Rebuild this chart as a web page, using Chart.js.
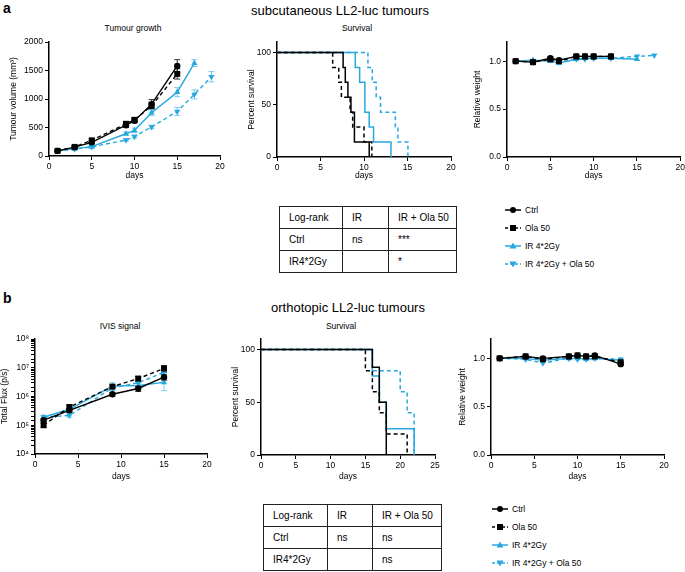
<!DOCTYPE html>
<html>
<head>
<meta charset="utf-8">
<script src="https://cdn.jsdelivr.net/npm/chart.js@4.4.1/dist/chart.umd.min.js"></script>
<style>
  body { margin: 0; width: 685px; height: 572px; overflow: hidden; background: #fff; position: relative;
         font-family: "Liberation Sans", Arial, sans-serif; color: #000; }
  canvas { position: absolute; }
  .t { position: absolute; transform: translate(-50%, -50%); white-space: nowrap; }
  .sub { font-size: 8.5px; }
  .main { font-size: 13px; }
  .panel { position: absolute; font-weight: bold; font-size: 14px; }
  table.lr { position: absolute; border-collapse: collapse; font-size: 10px; }
  table.lr td { border: 1.5px solid #222; padding: 0 0 0 9px; height: 21px; }
  .leg { position: absolute; font-size: 8.5px; display: flex; align-items: center; white-space: nowrap; }
  .leg svg { margin-right: 4px; }
</style>
</head>
<body>

<div class="panel" style="left:3px;top:0px">a</div>
<div class="t main" style="left:340px;top:10px">subcutaneous LL2-luc tumours</div>
<div class="t sub" style="left:133px;top:28px">Tumour growth</div>
<div class="t sub" style="left:357px;top:28px">Survival</div>

<div class="panel" style="left:3px;top:290px">b</div>
<div class="t main" style="left:348px;top:307px">orthotopic LL2-luc tumours</div>
<div class="t sub" style="left:120px;top:326px">IVIS signal</div>
<div class="t sub" style="left:341px;top:326px">Survival</div>

<canvas id="growthA"></canvas>
<canvas id="survA"></canvas>
<canvas id="weightA"></canvas>
<canvas id="ivisB"></canvas>
<canvas id="survB"></canvas>
<canvas id="weightB"></canvas>

<table class="lr" id="tableA" style="left:279px;top:206px"></table>
<table class="lr" id="tableB" style="left:263px;top:504px"></table>
<div id="legendA"></div>
<div id="legendB"></div>

<script>
// ---- data ----

// a: tumour growth (mm3)
const growthDays = [1, 3, 5, 9, 10, 12, 15];
const growthDaysIR = [1, 3, 5, 9, 10, 12, 15, 17];
const growthDaysIROla = [1, 3, 5, 9, 10, 12, 15, 17, 19];
const growthCtrl = [90, 155, 240, 540, 620, 910, 1580];
const growthCtrlErr = [10, 20, 30, 40, 40, 80, 110];
const growthOla = [90, 160, 275, 565, 635, 880, 1440];
const growthOlaErr = [10, 20, 30, 40, 40, 60, 90];
const growthIR = [90, 130, 165, 390, 450, 760, 1120, 1630];
const growthIRErr = [10, 15, 20, 30, 40, 50, 80, 60];
const growthIROla = [90, 120, 160, 280, 340, 510, 780, 1080, 1390];
const growthIROlaErr = [10, 15, 20, 20, 25, 30, 70, 80, 90];

// a: survival (Kaplan-Meier steps)
const survACtrlX = [0, 7.6, 7.85, 8.15, 8.5, 8.9, 10.6];
const survACtrlY = [100, 85.7, 71.4, 57.1, 42.9, 14.3, 0];
const survAOlaX = [0, 6.4, 7.1, 7.4, 8.4, 8.7, 10.0, 10.9];
const survAOlaY = [100, 85.7, 71.4, 57.1, 42.9, 28.6, 14.3, 0];
const survAIRX = [0, 9.0, 9.5, 10.1, 10.6, 11.1, 13.1];
const survAIRY = [100, 85.7, 71.4, 42.9, 28.6, 14.3, 0];
const survAIROlaX = [0, 10.45, 10.95, 11.4, 11.9, 13.6, 13.9, 15.05];
const survAIROlaY = [100, 85.7, 71.4, 57.1, 42.9, 28.6, 14.3, 0];

// a: relative weight
const weightDaysA = [1, 3, 5, 6, 8, 9, 10, 12];
const weightDaysAIR = [1, 3, 5, 6, 8, 9, 10, 12, 15];
const weightDaysAIROla = [1, 3, 5, 6, 8, 9, 10, 12, 15, 17];
const weightACtrl = [1.0, 0.99, 1.03, 1.01, 1.05, 1.05, 1.05, 1.05];
const weightAOla = [1.0, 0.99, 1.02, 1.0, 1.05, 1.05, 1.05, 1.05];
const weightAIR = [1.0, 1.01, 1.0, 0.98, 1.02, 1.03, 1.03, 1.03, 1.02];
const weightAIROla = [1.0, 1.0, 1.01, 0.99, 1.02, 1.02, 1.03, 1.03, 1.05, 1.06];

// b: IVIS signal (p/s)
const ivisDays = [1, 4, 9, 12, 15];
const ivisCtrl = [1.5e5, 3.3e5, 1.2e6, 1.9e6, 4.7e6];
const ivisCtrlErr = [2e4, 5e4, 1.5e5, 4e5, 1e6];
const ivisOla = [1.0e5, 4.3e5, 2.2e6, 4.2e6, 9.4e6];
const ivisOlaErr = [1.5e4, 8e4, 3e5, 8e5, 2.5e6];
const ivisIR = [1.9e5, 3.6e5, 2.3e6, 2.4e6, 3.1e6];
const ivisIRErr = [3e4, 6e4, 7e5, 5e5, 1.5e6];
const ivisIROla = [1.9e5, 2.2e5, 2.0e6, 3.0e6, 6.9e6];
const ivisIROlaErr = [3e4, 3e4, 4e5, 6e5, 1.5e6];

// b: survival
const survBCtrlX = [0, 16, 17, 18];
const survBCtrlY = [100, 83.3, 50, 0];
const survBOlaX = [0, 15, 16, 17, 18, 21];
const survBOlaY = [100, 80, 60, 40, 20, 0];
const survBIRX = [0, 16, 17, 18, 22];
const survBIRY = [100, 75, 50, 25, 0];
const survBIROlaX = [0, 16, 20, 21, 22];
const survBIROlaY = [100, 80, 60, 40, 0];

// b: relative weight
const weightDaysB = [1, 4, 6, 9, 10, 11, 12, 15];
const weightBCtrl = [1.0, 1.02, 1.0, 1.02, 1.03, 1.02, 1.03, 0.94];
const weightBOla = [1.0, 1.02, 0.99, 1.02, 1.03, 1.02, 1.02, 0.96];
const weightBIR = [1.0, 1.0, 0.98, 1.0, 1.0, 0.99, 1.0, 0.98];
const weightBIROla = [1.0, 0.99, 0.95, 1.0, 0.99, 0.99, 1.0, 0.99];

// log-rank tables
const tableHeader = ['Log-rank', 'IR', 'IR + Ola 50'];
const tableARows = [['Ctrl', 'ns', '***'], ['IR4*2Gy', '', '*']];
const tableBRows = [['Ctrl', 'ns', 'ns'], ['IR4*2Gy', '', 'ns']];

// ---- styling ----
const FONT = '"Liberation Sans", Arial, sans-serif';
const CYAN = '#27a8df';
const series = {
  ctrl:  { label: 'Ctrl', color: '#000', err: '#333', dash: [], point: 'circle', rot: 0, r: 3.2 },
  ola:   { label: 'Ola 50', color: '#000', err: '#333', dash: [4, 3], point: 'rect', rot: 0, r: 4.2 },
  ir:    { label: 'IR 4*2Gy', color: CYAN, err: '#7ccbee', dash: [], point: 'triangle', rot: 0, r: 3.6 },
  irola: { label: 'IR 4*2Gy + Ola 50', color: CYAN, err: '#7ccbee', dash: [4, 3], point: 'triangle', rot: 180, r: 3.6 }
};

Chart.defaults.font.family = FONT;
Chart.defaults.font.size = 8.5;
Chart.defaults.color = '#000';

function ds(key, xs, ys, err, extra) {
  const s = series[key];
  return Object.assign({
    label: s.label,
    data: xs.map((x, i) => ({ x: x, y: ys[i] })),
    err: err,
    errColor: s.err,
    borderColor: s.color,
    backgroundColor: s.color,
    pointBackgroundColor: s.color,
    borderWidth: 1.4,
    borderDash: s.dash,
    pointStyle: s.point,
    pointRotation: s.rot,
    pointRadius: s.r,
    pointBorderWidth: 0,
    tension: 0,
    clip: false
  }, extra || {});
}

function km(key, xs, ys) {
  return ds(key, xs, ys, null, { stepped: true, pointRadius: 0, borderWidth: 1.5 });
}

// error bars drawn through the chart's own scales
const errorBars = {
  id: 'errorBars',
  beforeDatasetsDraw(chart) {
    const ctx = chart.ctx;
    const xs = chart.scales.x, ys = chart.scales.y;
    chart.data.datasets.forEach(d => {
      if (!d.err) return;
      ctx.save();
      ctx.strokeStyle = d.errColor;
      ctx.lineWidth = 1;
      d.data.forEach((p, j) => {
        const e = d.err[j];
        if (!e) return;
        const x = xs.getPixelForValue(p.x);
        const lo = Math.max(p.y - e, p.y * 0.05);
        const y1 = ys.getPixelForValue(p.y + e);
        const y2 = ys.getPixelForValue(lo);
        ctx.beginPath();
        ctx.moveTo(x, y1); ctx.lineTo(x, y2);
        ctx.moveTo(x - 3, y1); ctx.lineTo(x + 3, y1);
        ctx.moveTo(x - 3, y2); ctx.lineTo(x + 3, y2);
        ctx.stroke();
      });
      ctx.restore();
    });
  }
};

const SUP = { 4: '\u2074', 5: '\u2075', 6: '\u2076', 7: '\u2077', 8: '\u2078' };

function makeChart(id, box, yCfg, datasets) {
  const cv = document.getElementById(id);
  const padTop = 8, padRight = box.padRight || 12;
  cv.width = (box.x1 - box.x0) + box.yW + padRight;
  cv.height = (box.yBot - box.yTop) + padTop + box.xH;
  cv.style.left = (box.x0 - box.yW) + 'px';
  cv.style.top = (box.yTop - padTop) + 'px';

  const font = { family: FONT, size: 8.5 };
  const axisGrid = { drawOnChartArea: false, drawTicks: true, tickLength: 4, color: '#000', lineWidth: 1 };
  const axisBorder = { color: '#000', width: 1.5 };

  const y = {
    type: yCfg.type || 'linear',
    min: yCfg.min, max: yCfg.max,
    grid: axisGrid, border: axisBorder,
    title: { display: true, text: yCfg.title, font: font, color: '#000', padding: 0 },
    ticks: { font: font, color: '#000', padding: 2, autoSkip: false, callback: yCfg.format },
    afterFit: s => { s.width = box.yW; }
  };
  if (yCfg.step) {
    y.ticks.stepSize = yCfg.step;
    y.afterBuildTicks = s => {
      s.ticks = s.ticks.filter(t => Math.abs(t.value / yCfg.step - Math.round(t.value / yCfg.step)) < 1e-6);
    };
  }

  return new Chart(cv, {
    type: 'line',
    data: { datasets: datasets },
    plugins: [errorBars],
    options: {
      responsive: false,
      animation: false,
      layout: { padding: { top: padTop, right: padRight, left: 0, bottom: 0 } },
      plugins: { legend: { display: false }, tooltip: { enabled: false } },
      scales: {
        x: {
          type: 'linear', min: 0, max: box.xMax || 20,
          grid: axisGrid, border: axisBorder,
          ticks: { stepSize: 5, font: font, color: '#000', padding: 2, maxRotation: 0, autoSkip: false },
          title: { display: true, text: 'days', font: font, color: '#000', padding: 0 },
          afterFit: s => { s.height = box.xH; }
        },
        y: y
      }
    }
  });
}

const fmt1 = v => v.toFixed(1);
const fmtInt = v => String(v);
const fmtLog = v => {
  const l = Math.log10(v);
  return Math.abs(l - Math.round(l)) < 1e-9 ? '10' + SUP[Math.round(l)] : '';
};

// ---- panel a ----
makeChart('growthA', { x0: 49, x1: 220, yTop: 42, yBot: 156, yW: 40, xH: 25 },
  { min: 0, max: 2000, step: 500, title: 'Tumour volume (mm\u00b3)', format: fmtInt },
  [
    ds('ctrl', growthDays, growthCtrl, growthCtrlErr),
    ds('ola', growthDays, growthOla, growthOlaErr),
    ds('ir', growthDaysIR, growthIR, growthIRErr),
    ds('irola', growthDaysIROla, growthIROla, growthIROlaErr)
  ]);

makeChart('survA', { x0: 277, x1: 451, yTop: 42, yBot: 157, yW: 30, xH: 24 },
  { min: 0, max: 110, step: 50, title: 'Percent survival', format: fmtInt },
  [
    km('ctrl', survACtrlX, survACtrlY),
    km('ola', survAOlaX, survAOlaY),
    km('ir', survAIRX, survAIRY),
    km('irola', survAIROlaX, survAIROlaY)
  ]);

makeChart('weightA', { x0: 507, x1: 681, yTop: 42, yBot: 157, yW: 34, xH: 24, padRight: 6 },
  { min: 0, max: 1.2, step: 0.5, title: 'Relative weight', format: fmt1 },
  [
    ds('ctrl', weightDaysA, weightACtrl, null),
    ds('ola', weightDaysA, weightAOla, null),
    ds('ir', weightDaysAIR, weightAIR, null),
    ds('irola', weightDaysAIROla, weightAIROla, null)
  ]);

// ---- panel b ----
makeChart('ivisB', { x0: 35, x1: 207, yTop: 339, yBot: 454, yW: 35, xH: 28 },
  { type: 'logarithmic', min: 1e4, max: 1e8, title: 'Total Flux (p/s)', format: fmtLog },
  [
    ds('ctrl', ivisDays, ivisCtrl, ivisCtrlErr),
    ds('ola', ivisDays, ivisOla, ivisOlaErr),
    ds('ir', ivisDays, ivisIR, ivisIRErr),
    ds('irola', ivisDays, ivisIROla, ivisIROlaErr)
  ]);

makeChart('survB', { x0: 261, x1: 435, yTop: 339, yBot: 455, yW: 30, xH: 27, xMax: 25 },
  { min: 0, max: 110, step: 50, title: 'Percent survival', format: fmtInt },
  [
    km('ctrl', survBCtrlX, survBCtrlY),
    km('ola', survBOlaX, survBOlaY),
    km('ir', survBIRX, survBIRY),
    km('irola', survBIROlaX, survBIROlaY)
  ]);

makeChart('weightB', { x0: 491, x1: 664, yTop: 339, yBot: 455, yW: 33, xH: 27 },
  { min: 0, max: 1.2, step: 0.5, title: 'Relative weight', format: fmt1 },
  [
    ds('ctrl', weightDaysB, weightBCtrl, null),
    ds('ola', weightDaysB, weightBOla, null),
    ds('ir', weightDaysB, weightBIR, null),
    ds('irola', weightDaysB, weightBIROla, null)
  ]);

// ---- log-rank tables ----
function fillTable(id, widths, rows) {
  const table = document.getElementById(id);
  [tableHeader].concat(rows).forEach(r => {
    const tr = document.createElement('tr');
    r.forEach((c, i) => {
      const td = document.createElement('td');
      td.textContent = c;
      td.style.width = (widths[i] - 9) + 'px';
      tr.appendChild(td);
    });
    table.appendChild(tr);
  });
}
fillTable('tableA', [62, 45, 67], tableARows);
fillTable('tableB', [63, 44, 68], tableBRows);

// ---- legends ----
function markerSvg(key) {
  const s = series[key];
  const dash = s.dash.length ? ' stroke-dasharray="3,2"' : '';
  let shape;
  if (s.point === 'circle') shape = '<circle cx="8" cy="5" r="3" fill="' + s.color + '"/>';
  else if (s.point === 'rect') shape = '<rect x="5" y="2" width="6" height="6" fill="' + s.color + '"/>';
  else if (s.rot === 0) shape = '<polygon points="8,1.5 11.5,7.5 4.5,7.5" fill="' + s.color + '"/>';
  else shape = '<polygon points="8,8.5 11.5,2.5 4.5,2.5" fill="' + s.color + '"/>';
  return '<svg width="16" height="10"><line x1="0" y1="5" x2="16" y2="5" stroke="' + s.color +
    '" stroke-width="1.5"' + dash + '/>' + shape + '</svg>';
}
function fillLegend(id, left, tops) {
  const holder = document.getElementById(id);
  ['ctrl', 'ola', 'ir', 'irola'].forEach((k, i) => {
    const d = document.createElement('div');
    d.className = 'leg';
    d.style.left = left + 'px';
    d.style.top = (tops[i] - 6) + 'px';
    d.innerHTML = markerSvg(k) + '<span>' + series[k].label + '</span>';
    holder.appendChild(d);
  });
}
fillLegend('legendA', 505, [211, 229, 247, 265]);
fillLegend('legendB', 492, [510, 528, 546, 564]);
</script>
</body>
</html>
